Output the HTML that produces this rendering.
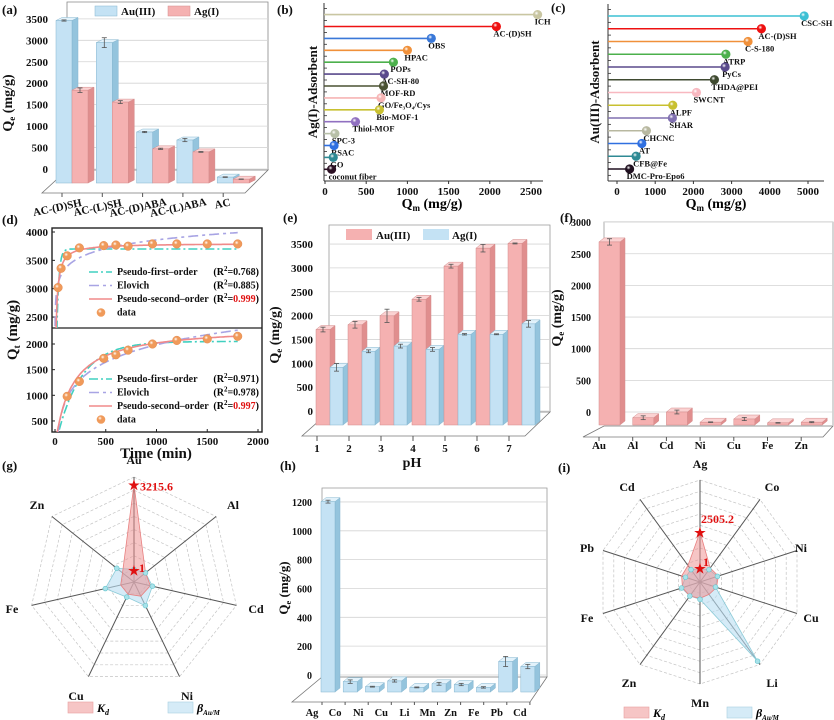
<!DOCTYPE html>
<html><head><meta charset="utf-8">
<style>
body{margin:0;background:#fff}
svg{display:block;font-family:"Liberation Serif","DejaVu Serif",serif;font-weight:bold}
</style></head>
<body>
<svg id="fig" width="834" height="720" viewBox="0 0 834 720">
<defs>
<clipPath id="clipTop"><rect x="52" y="228" width="210" height="100"/></clipPath>
<clipPath id="clipBot"><rect x="52" y="328" width="210" height="104"/></clipPath>
</defs>
<rect x="0" y="0" width="834" height="720" fill="#fff"/>
</svg>
<script>
// ---------- DATA ----------
// (a)
const aCats=['AC-(D)SH','AC-(L)SH','AC-(D)ABA','AC-(L)ABA','AC'];
const aAu=[3500,2960,780,585,-320];
const aAg=[1800,1510,370,295,-370];
const aAuErr=[15,120,15,40,8];
const aAgErr=[55,35,15,10,5];
const aTicks=[0,500,1000,1500,2000,2500,3000,3500];
// (b)
const bNames=['ICH','AC-(D)SH','OBS','HPAC','POPs','AC-SH-80','MOF-RD','GO/Fe\u2083O\u2084/Cys','Bio-MOF-1','Thiol-MOF','SPC-3','RSAC','GO','coconut fiber'];
const bVals=[2580,2080,1290,1000,830,720,710,680,660,370,120,110,100,80];
const bColors=['#c9c6a2','#ee1111','#3a78d8','#f0903a','#4cb04c','#5a4a8c','#4a5232','#f6b4b4','#c8c030','#9070c0','#b8c0a8','#3070e0','#2f8a94','#2a0f22'];
const bTicks=[0,500,1000,1500,2000,2500];
// (c)
const cNames=['CSC-SH','AC-(D)SH','C-S-180','ATRP','PyCs','THDA@PEI','SWCNT','ALPF','SHAR','CHCNC','AT','CFB@Fe','DMC-Pro-Epo6'];
const cVals=[4900,3780,3430,2850,2830,2550,2080,1460,1450,770,650,500,330];
const cColors=['#3cc0d4','#ee1111','#f0903a','#4cb04c','#5a4a8c','#3f4a30','#f8b8c0','#c8c030','#8070b0','#b8b8a0','#3070e0','#2f8a94','#201020'];
const cTicks=[0,1000,2000,3000,4000,5000];
// (d)
const dT1=[30,60,120,240,480,600,720,960,1200,1500,1800];
const dQ1=[3020,3360,3580,3720,3760,3770,3750,3790,3790,3790,3790];
const dT2=[120,240,480,600,720,960,1200,1500,1800];
const dQ2=[980,1270,1720,1790,1880,2000,2070,2100,2150];
const dPfo1=[3700,0.05], dElo1=[2340,220], dPso1=[3800,3.4e-5];
const dPfo2=[2050,0.0042], dElo2=[-1380,487], dPso2=[2350,2.6e-6];
const dR1=['0.768','0.885','0.999'], dR2=['0.971','0.978','0.997'];
const dXTicks=[0,500,1000,1500,2000];
const dYTicks1=[2500,3000,3500,4000];
const dYTicks2=[500,1000,1500,2000];
// (e)
const eCats=['1','2','3','4','5','6','7'];
const eAu=[1680,1780,1970,2320,3020,3400,3500];
const eAg=[880,1220,1330,1260,1580,1580,1800];
const eAuErr=[50,70,140,40,40,80,10];
const eAgErr=[80,30,40,40,15,10,70];
const eTicks=[0,500,1000,1500,2000,2500,3000,3500];
// (f)
const fCats=['Au','Al','Cd','Ni','Cu','Fe','Zn'];
const fVals=[2670,-90,0,-160,-110,-170,-160];
const fErr=[50,30,30,5,25,5,8];
const fTicks=[0,500,1000,1500,2000,2500,3000];
// (g)
const gAxes=['Au','Al','Cd','Ni','Cu','Fe','Zn'];
const gKd=[93,14,16,15,13,13,14];
const gBeta=[12,14,18,25,16,28,21];
const gStars=[93,11.5];
const gStarLabels=['3215.6','1'];
// (h)
const hCats=['Ag','Co','Ni','Cu','Li','Mn','Zn','Fe','Pb','Cd'];
const hVals=[1190,-60,-95,-55,-100,-75,-80,-100,80,45];
const hErr=[10,12,3,8,3,10,8,5,35,15];
const hTicks=[0,200,400,600,800,1000,1200];
// (i)
const iAxes=['Ag','Co','Ni','Cu','Li','Mn','Zn','Fe','Pb','Cd'];
const iKd=[49,17,19,17,15,16,17,18,19,20];
const iBeta=[13,15,18,16,96,17,17,19,15,15];
const iStars=[49,13.7];
const iStarLabels=['2505.2','1'];

// ---------- HELPERS ----------
const NS='http://www.w3.org/2000/svg';
const svg=document.getElementById('fig');
function mk(tag,attrs,parent){const e=document.createElementNS(NS,tag);for(const k in attrs)e.setAttribute(k,attrs[k]);(parent||svg).appendChild(e);return e;}
function tx(x,y,s,size,anchor,parent,fill){const t=mk('text',{x:x,y:y,'font-size':size,'text-anchor':anchor||'middle',fill:fill||'#111'},parent);t.textContent=s;return t;}
function group(){return mk('g',{});}
const BLUE={front:'#c4e2f4',side:'#94c4dd',top:'#e2f2fb',stroke:'#86b6cf'};
const PINK={front:'#f5b1b1',side:'#e08e8e',top:'#fbd2d2',stroke:'#d48c8c'};
function bar3d(p,x,w,yTop,yBot,dx,dy,pal){
  const g=mk('g',{},p);
  mk('polygon',{points:`${x+w},${yTop} ${x+w+dx},${yTop-dy} ${x+w+dx},${yBot-dy} ${x+w},${yBot}`,fill:pal.side,stroke:pal.stroke,'stroke-width':0.5},g);
  mk('polygon',{points:`${x},${yTop} ${x+dx},${yTop-dy} ${x+w+dx},${yTop-dy} ${x+w},${yTop}`,fill:pal.top,stroke:pal.stroke,'stroke-width':0.5},g);
  mk('rect',{x:x,y:yTop,width:w,height:Math.max(0,yBot-yTop),fill:pal.front,stroke:pal.stroke,'stroke-width':0.5},g);
  return g;
}
function errBar(p,cx,y,e){
  const g=mk('g',{},p);
  mk('line',{x1:cx,y1:y-e,x2:cx,y2:y+e,stroke:'#555','stroke-width':0.8},g);
  mk('line',{x1:cx-2.5,y1:y-e,x2:cx+2.5,y2:y-e,stroke:'#555','stroke-width':0.8},g);
  mk('line',{x1:cx-2.5,y1:y+e,x2:cx+2.5,y2:y+e,stroke:'#555','stroke-width':0.8},g);
  return g;
}
function qTitle(x,y,sub,p,size){
  const t=mk('text',{x:x,y:y,'font-size':size||14,'text-anchor':'middle',transform:`rotate(-90 ${x} ${y})`,fill:'#111'},p);
  const a=mk('tspan',{},t);a.textContent='Q';
  const b=mk('tspan',{'font-size':(size||14)*0.65,dy:3},t);b.textContent=sub;
  const c=mk('tspan',{dy:-3},t);c.textContent=' (mg/g)';
  return t;
}
function panelLabel(x,y,s){const t=tx(x,y,s,13,'start');

}

// gradients for spheres
const defs=svg.querySelector('defs');
function sphereGrad(id,col){
  const g=mk('radialGradient',{id:id,cx:'0.38',cy:'0.35',r:'0.65'},defs);
  mk('stop',{offset:'0','stop-color':'#ffffff'},g);
  mk('stop',{offset:'0.35','stop-color':col},g);
  mk('stop',{offset:'1','stop-color':col},g);
}

// ---------- PANEL A ----------
(function(){
  const p=group();
  
  
  panelLabel(2,14,'(a)');
  const yB=v=>169-v*0.0429, yF=v=>164-v*0.041, floor=183;
  mk('polyline',{points:'67,178 67,2 268,2 268,170',fill:'none',stroke:'#888','stroke-width':0.8},p);
  aTicks.forEach(v=>{
    const l=mk('line',{x1:67,y1:yB(v),x2:268,y2:yB(v),stroke:'#d4d4d4','stroke-width':0.8},p);
    
    
    const t=tx(48,yB(v)+4,String(v),11,'end',p);
    
    
  });
  mk('polygon',{points:'42,193 245,193 268,170 67,170',fill:'none',stroke:'#777','stroke-width':0.8},p);
  aCats.forEach((c,i)=>{
    const x=56+i*40.3;
    mk('line',{x1:x+6,y1:193,x2:x+6,y2:197,stroke:'#555'},p);
    const b1=bar3d(p,x,16,yF(aAu[i]),floor,6,3,BLUE);
    
    
    const e1=errBar(p,x+8,yF(aAu[i]),aAuErr[i]*0.041);
    
    
    const b2=bar3d(p,x+16,16,yF(aAg[i]),floor,6,3,PINK);
    
    
    const e2=errBar(p,x+24,yF(aAg[i]),aAgErr[i]*0.041);
    
    
    const cx=x+2-(i==4?-4:0), cy=211-(i==4?4:0);
    const t=tx(cx,cy,c,11,'middle',p);
    t.setAttribute('transform',`rotate(-12 ${cx} ${cy})`);
    
    
  });
  const yt=qTitle(12,103,'e',p,14);
  
  
  const l1=mk('rect',{x:95,y:6,width:22,height:10,fill:BLUE.front,stroke:BLUE.stroke,'stroke-width':0.5},p);
  
  
  tx(121,15,'Au(III)',11,'start',p);
  const l2=mk('rect',{x:168,y:6,width:22,height:10,fill:PINK.front,stroke:PINK.stroke,'stroke-width':0.5},p);
  
  
  tx(194,15,'Ag(I)',11,'start',p);
})();

// ---------- LOLLIPOP ----------
function lolli(p,names,vals,colors,x0,sc,axisX,y0,dy,pref){
  names.forEach((n,i)=>{
    const y=y0+i*dy, cx=x0+vals[i]*sc;
    sphereGrad(pref+'g'+i,colors[i]);
    const l=mk('line',{x1:axisX,y1:y,x2:cx,y2:y,stroke:colors[i],'stroke-width':1.6},p);
    
    
    const c=mk('circle',{cx:cx,cy:y,r:4.6,fill:`url(#${pref}g${i})`},p);
    
    
    const t=tx(cx-3,y+10,n,8.5,'start',p);
    
    
  });
}
// ---------- PANEL B ----------
(function(){
  const p=group();
  
  
  panelLabel(277,14,'(b)');
  mk('line',{x1:324,y1:3,x2:324,y2:181,stroke:'#333','stroke-width':1},p);
  mk('line',{x1:324,y1:181,x2:543,y2:181,stroke:'#333','stroke-width':1},p);
  for(let i=0;i<=14;i++){mk('line',{x1:324,y1:8.6+i*11.9,x2:327,y2:8.6+i*11.9,stroke:'#333','stroke-width':0.8},p);}
  bTicks.forEach(v=>{const x=325+v*0.0824;
    mk('line',{x1:x,y1:181,x2:x,y2:184,stroke:'#333'},p);
    const t=tx(x,195,String(v),11,'middle',p);
    
    });
  lolli(p,bNames,bVals,bColors,325,0.0824,324,14.6,11.9,'b');
  const t=mk('text',{x:317,y:92,'font-size':13,'text-anchor':'middle',transform:'rotate(-90 317 92)',fill:'#111'},p);
  t.textContent='Ag(I)-Adsorbent';
  
  
  const q=mk('text',{x:432,y:208,'font-size':14,'text-anchor':'middle'},p);
  q.innerHTML='Q<tspan font-size="9" dy="3">m</tspan><tspan dy="-3"> (mg/g)</tspan>';
  
  
})();
// ---------- PANEL C ----------
(function(){
  const p=group();
  
  
  panelLabel(551,12,'(c)');
  mk('line',{x1:608,y1:4,x2:608,y2:181,stroke:'#333','stroke-width':1},p);
  mk('line',{x1:608,y1:181,x2:824,y2:181,stroke:'#333','stroke-width':1},p);
  for(let i=0;i<=13;i++){mk('line',{x1:608,y1:9.6+i*12.75,x2:611,y2:9.6+i*12.75,stroke:'#333','stroke-width':0.8},p);}
  cTicks.forEach(v=>{const x=617+v*0.0382;
    mk('line',{x1:x,y1:181,x2:x,y2:184,stroke:'#333'},p);
    const t=tx(x,195,String(v),11,'middle',p);
    
    });
  lolli(p,cNames,cVals,cColors,617,0.0382,608,16,12.75,'c');
  const t=mk('text',{x:599,y:92,'font-size':13,'text-anchor':'middle',transform:'rotate(-90 599 92)',fill:'#111'},p);
  t.textContent='Au(III)-Adsorbent';
  
  
  const q=mk('text',{x:716,y:208,'font-size':14,'text-anchor':'middle'},p);
  q.innerHTML='Q<tspan font-size="9" dy="3">m</tspan><tspan dy="-3"> (mg/g)</tspan>';
  
  
})();

// ---------- PANEL D ----------
(function(){
  const p=group();
  
  
  panelLabel(2,224,'(d)');
  const X=t=>55+t*0.1015, Y1=v=>232+(4000-v)*0.0567, Y2=v=>344+(2000-v)*0.0513;
  mk('rect',{x:52,y:228,width:210,height:204,fill:'none',stroke:'#222','stroke-width':1.4},p);
  mk('line',{x1:52,y1:328,x2:262,y2:328,stroke:'#222','stroke-width':1.2},p);
  dXTicks.forEach(v=>{mk('line',{x1:X(v),y1:432,x2:X(v),y2:429,stroke:'#222'},p);
    const t=tx(X(v),445,String(v),11,'middle',p);
    
    });
  dYTicks1.forEach(v=>{mk('line',{x1:52,y1:Y1(v),x2:55,y2:Y1(v),stroke:'#222'},p);
    const t=tx(48,Y1(v)+4,String(v),11,'end',p);
    
    });
  dYTicks2.forEach(v=>{mk('line',{x1:52,y1:Y2(v),x2:55,y2:Y2(v),stroke:'#222'},p);
    const t=tx(48,Y2(v)+4,String(v),11,'end',p);
    
    });
  const pfo=(pr,t)=>pr[0]*(1-Math.exp(-pr[1]*t));
  const elo=(pr,t)=>pr[0]+pr[1]*Math.log(t);
  const pso=(pr,t)=>{const x=pr[0]*pr[1]*t;return pr[0]*x/(1+x);};
  const styles=[['#40d0c0','9,3,2,3'],['#a8a4e4','10,4,3,4'],['#f08a8a','']];
  function curve(fn,pr,Y,clip,st,nm){
    let d='';for(let t=1;t<=1800;t+=(t<100?1:10)){d+=(d?'L':'M')+X(t).toFixed(1)+','+Y(fn(pr,t)).toFixed(1);}
    const a=mk('path',{d:d,fill:'none',stroke:st[0],'stroke-width':1.6,'stroke-dasharray':st[1],'clip-path':`url(#${clip})`},p);
    
    
  }
  curve(pfo,dPfo1,Y1,'clipTop',styles[0],'pfo-fit-top');
  curve(elo,dElo1,Y1,'clipTop',styles[1],'elovich-fit-top');
  curve(pso,dPso1,Y1,'clipTop',styles[2],'pso-fit-top');
  curve(pfo,dPfo2,Y2,'clipBot',styles[0],'pfo-fit-bottom');
  curve(elo,dElo2,Y2,'clipBot',styles[1],'elovich-fit-bottom');
  curve(pso,dPso2,Y2,'clipBot',styles[2],'pso-fit-bottom');
  sphereGrad('dotg','#f09a5a');
  dT1.forEach((t,i)=>{const c=mk('circle',{cx:X(t),cy:Y1(dQ1[i]),r:4.3,fill:'url(#dotg)',stroke:'#e58a50','stroke-width':0.5},p);
    
    });
  dT2.forEach((t,i)=>{const c=mk('circle',{cx:X(t),cy:Y2(dQ2[i]),r:4.3,fill:'url(#dotg)',stroke:'#e58a50','stroke-width':0.5},p);
    
    });
  const names=['Pseudo-first\u2013order','Elovich','Pseudo-second\u2013order'];
  function legend(y0,R){
    for(let k=0;k<3;k++){const y=y0+k*13.5;
      const l=mk('line',{x1:89,y1:y-3,x2:112,y2:y-3,stroke:styles[k][0],'stroke-width':1.6,'stroke-dasharray':styles[k][1]},p);
      
      
      tx(117,y,names[k],10,'start',p);
      const r=mk('text',{x:259,y:y,'font-size':10,'text-anchor':'end'},p);
      r.innerHTML='(R<tspan font-size="7" dy="-4">2</tspan><tspan dy="4">=</tspan><tspan fill="'+(k==2?'#e01010':'#111')+'">'+R[k]+'</tspan>)';
      
      }
    const yy=y0+3*13.5;
    mk('circle',{cx:101,cy:yy-3,r:4.3,fill:'url(#dotg)'},p);
    tx(117,yy,'data',10,'start',p);
  }
  legend(275,dR1); legend(382,dR2);
  const yt=qTitle(17,330,'t',p,15);
  
  
  const xt=tx(156,458,'Time (min)',15,'middle',p);
  
  
})();

// ---------- PANEL E ----------
(function(){
  const p=group();
  
  
  panelLabel(283,222,'(e)');
  const yB=v=>411-v*0.0477, yF=v=>409-v*0.0473, floor=425;
  mk('polyline',{points:'329,412 329,225 550,225 550,412',fill:'none',stroke:'#999','stroke-width':0.8},p);
  eTicks.forEach(v=>{mk('line',{x1:329,y1:yB(v),x2:550,y2:yB(v),stroke:'#d4d4d4','stroke-width':0.8},p);
    const t=tx(313,yB(v)+4,String(v),11,'end',p);
    
    });
  mk('polygon',{points:'302,436 525,436 550,412 329,412',fill:'none',stroke:'#777','stroke-width':0.8},p);
  eCats.forEach((c,i)=>{const x=316+i*32;
    const b1=bar3d(p,x,14,yF(eAu[i]),floor,5,4,PINK);
    
    
    const e1=errBar(p,x+7,yF(eAu[i]),eAuErr[i]*0.0473);
    
    
    const b2=bar3d(p,x+14,13,yF(eAg[i]),floor,5,4,BLUE);
    
    
    const e2=errBar(p,x+20.5,yF(eAg[i]),eAgErr[i]*0.0473);
    
    
    mk('line',{x1:x+1,y1:436,x2:x+1,y2:441,stroke:'#555'},p);
    const t=tx(x+1,452,c,11,'middle',p);
    
    });
  const yt=qTitle(279,335,'e',p,14);
  
  
  const xt=tx(412,467,'pH',14,'middle',p);
  
  
  const l1=mk('rect',{x:346,y:229,width:26,height:11,fill:PINK.front},p);
  
  
  tx(376,239,'Au(III)',11,'start',p);
  const l2=mk('rect',{x:423,y:229,width:26,height:11,fill:BLUE.front},p);
  
  
  tx(452,239,'Ag(I)',11,'start',p);
})();

// ---------- PANEL F ----------
(function(){
  const p=group();
  
  
  panelLabel(560,222,'(f)');
  const yB=v=>412-v*0.0633, yF=v=>412-v*0.0637, floor=425;
  mk('polyline',{points:'604,425 604,222 833,222 833,425',fill:'none',stroke:'#999','stroke-width':0.8},p);
  fTicks.forEach(v=>{mk('line',{x1:604,y1:yB(v),x2:833,y2:yB(v),stroke:'#d4d4d4','stroke-width':0.8},p);
    const t=tx(591,yB(v)+4,String(v),10,'end',p);
    
    });
  mk('polygon',{points:'583,437 823,437 833,426 604,426',fill:'none',stroke:'#777','stroke-width':0.8},p);
  fCats.forEach((c,i)=>{const x=599+i*33.7;
    const b=bar3d(p,x,21,yF(fVals[i]),floor,5,4,PINK);
    
    
    const e=errBar(p,x+10.5,yF(fVals[i]),fErr[i]*0.0637);
    
    
    mk('line',{x1:x,y1:437,x2:x,y2:441,stroke:'#555'},p);
    const t=tx(x,449,c,11,'middle',p);
    
    });
  const yt=qTitle(561,318,'e',p,14);
  
  
})();

// ---------- RADAR ----------
function radar(p,cx,cy,R,axes,kd,beta,stars,starLabels,rings,lblPos,starTxt,pref){
  const n=axes.length;
  const pt=(i,u)=>{const a=i*2*Math.PI/n;return [cx+R*u/100*Math.sin(a),cy-R*u/100*Math.cos(a)];};
  for(let r=1;r<=rings;r++){let s='';for(let i=0;i<n;i++){const q=pt(i,100*r/rings);s+=q[0].toFixed(1)+','+q[1].toFixed(1)+' ';}
    const pg=mk('polygon',{points:s,fill:'none',stroke:'#c4c4c4','stroke-width':0.7,'stroke-dasharray':'3,2'},p);
    
    }
  for(let i=0;i<n;i++){const q=pt(i,100);
    const l=mk('line',{x1:cx,y1:cy,x2:q[0],y2:q[1],stroke:'#555','stroke-width':1},p);
    
    
    const t=tx(lblPos[i][0],lblPos[i][1],axes[i],12,'middle',p);
    
    }
  const poly=arr=>arr.map((v,i)=>pt(i,v).map(z=>z.toFixed(1)).join(',')).join(' ');
  const pb=mk('polygon',{points:poly(beta),fill:'rgba(185,222,242,0.6)',stroke:'#8ccbd8','stroke-width':0.8},p);
  
  
  const pk=mk('polygon',{points:poly(kd),fill:'rgba(238,140,140,0.5)',stroke:'#e88080','stroke-width':0.8},p);
  
  
  beta.forEach((v,i)=>{const q=pt(i,v);
    const c=mk('circle',{cx:q[0],cy:q[1],r:2.4,fill:'#a8e2ea',stroke:'#66c4cc','stroke-width':0.6},p);
    
    });
  stars.forEach((v,k)=>{const q=pt(0,v);
    const s=tx(q[0],q[1]+5,'\u2605',13,'middle',p,'#e01010');
    
    
    const t=tx(q[0]+starTxt[k][0],q[1]+starTxt[k][1],starLabels[k],12,'start',p,'#e01010');
    
    });
}
function radarLegend(p,x1,x2,y){
  const a=mk('rect',{x:x1,y:y,width:25,height:11,fill:'rgba(238,140,140,0.5)',stroke:'#e8a0a0','stroke-width':0.6},p);
  
  
  const t1=mk('text',{x:x1+29,y:y+10,'font-size':12,'font-style':'italic'},p);
  t1.innerHTML='K<tspan font-size="8" dy="3">d</tspan>';
  const b=mk('rect',{x:x2,y:y,width:25,height:11,fill:'rgba(185,222,242,0.6)',stroke:'#a8d0e0','stroke-width':0.6},p);
  
  
  const t2=mk('text',{x:x2+29,y:y+10,'font-size':12,'font-style':'italic'},p);
  t2.innerHTML='\u03B2<tspan font-size="7" dy="3">Au/M</tspan>';
}
// ---------- PANEL G ----------
(function(){
  const p=group();
  
  
  panelLabel(2,470,'(g)');
  radar(p,134,582,105,gAxes,gKd,gBeta,gStars,gStarLabels,8,
    [[134,464],[233,509],[256,613],[187,700],[76,700],[12,613],[37,509]],
    [[6,6],[5,2]],'g');
  radarLegend(p,68,168,702);
})();
// ---------- PANEL H ----------
(function(){
  const p=group();
  
  
  panelLabel(280,470,'(h)');
  const yB=v=>675-v*0.1442, yF=v=>673-v*0.144, floor=692;
  mk('polyline',{points:'322,677 322,488 547,488 547,677',fill:'none',stroke:'#999','stroke-width':0.8},p);
  hTicks.forEach(v=>{mk('line',{x1:322,y1:yB(v),x2:547,y2:yB(v),stroke:'#d4d4d4','stroke-width':0.8},p);
    const t=tx(312,yB(v)+4,String(v),10,'end',p);
    
    });
  mk('polygon',{points:'292,702 530,702 547,677 322,677',fill:'none',stroke:'#777','stroke-width':0.8},p);
  hCats.forEach((c,i)=>{const x=321+i*22.2;
    const b=bar3d(p,x,14,yF(hVals[i]),floor,5,4,BLUE);
    
    
    const e=errBar(p,x+7,yF(hVals[i]),hErr[i]*0.144);
    
    
    const lx=312+i*23.1;
    mk('line',{x1:lx+10,y1:702,x2:lx+10,y2:705,stroke:'#555'},p);
    const t=tx(lx,716,c,10.5,'middle',p);
    
    });
  const yt=qTitle(288,588,'e',p,13);
  
  
})();
// ---------- PANEL I ----------
(function(){
  const p=group();
  
  
  panelLabel(558,472,'(i)');
  radar(p,700,582,102,iAxes,iKd,iBeta,iStars,iStarLabels,9,
    [[700,468],[772,491],[801,552],[811,622],[772,687],[700,707],[629,687],[587,622],[587,552],[627,491]],
    [[1,-9],[3,-2]],'i');
  radarLegend(p,624,727,707);
})();
</script>
</body></html>
